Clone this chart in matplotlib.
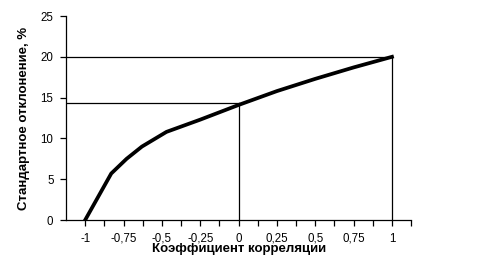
import numpy as np
import matplotlib
matplotlib.use("Agg")
import matplotlib.pyplot as plt
from matplotlib.ticker import FixedLocator

plt.rcParams['font.family'] = ['Liberation Sans', 'DejaVu Sans']

# коэффициент корреляции и стандартное отклонение портфеля
korr = [-1, -0.83, -0.73, -0.63, -0.47, -0.25, 0, 0.25, 0.5, 0.75, 1]
odchyl = [0, 5.7, 7.5, 9.0, 10.8, 12.3, 14.1, 15.8, 17.3, 18.7, 20]
poziom_0 = 14.3
poziom_1 = 20
xtiki = [-1, -0.75, -0.5, -0.25, 0, 0.25, 0.5, 0.75, 1]
xetykiety = ["-1", "-0,75", "-0,5", "-0,25", "0", "0,25", "0,5", "0,75", "1"]
ytiki = [0, 5, 10, 15, 20, 25]

fig = plt.figure(figsize=(4.91, 2.67), dpi=100)
ax = fig.add_axes([0.1344, 0.176, 0.703, 0.764])

ax.plot(korr, odchyl, color='k', lw=2.7, solid_joinstyle='round', zorder=3)
# линии-проекции
ax.plot([-1.125, 1], [poziom_1, poziom_1], color='k', lw=0.9)
ax.plot([1, 1], [0, poziom_1], color='k', lw=0.9)
ax.plot([-1.125, 0], [poziom_0, poziom_0], color='k', lw=0.9)
ax.plot([0, 0], [0, poziom_0], color='k', lw=0.9)

ax.set_xlim(-1.125, 1.125)
ax.set_ylim(0, 25)
ax.spines['top'].set_visible(False)
ax.spines['right'].set_visible(False)
ax.spines['left'].set_linewidth(0.9)
ax.spines['bottom'].set_linewidth(0.9)

ax.set_xticks(xtiki)
ax.set_xticklabels(xetykiety)
ax.xaxis.set_minor_locator(FixedLocator([-0.875, -0.625, -0.375, -0.125, 0.125, 0.375, 0.625, 0.875, 1.125]))
ax.set_yticks(ytiki)
ax.tick_params(axis='both', which='both', direction='out', length=4, width=0.9, labelsize=8.3, pad=5)

ax.set_xlabel("Коэффициент корреляции", fontsize=9.5, fontweight='bold', labelpad=-1)
ax.set_ylabel("Стандартное отклонение, %", fontsize=9.5, fontweight='bold', labelpad=8)

fig.savefig("out.png", dpi=100)
